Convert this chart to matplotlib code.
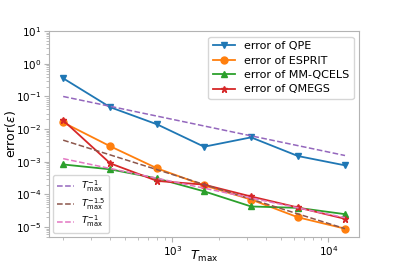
import matplotlib
matplotlib.use("Agg")
import matplotlib.pyplot as plt

# data
T = [200, 400, 800, 1600, 3200, 6400, 12800]
err_qpe = [0.36, 0.047, 0.014, 0.0029, 0.0056, 0.0015, 0.00078]
err_esprit = [0.016, 0.0030, 0.00063, 0.00019, 7.0e-5, 2.0e-5, 9.0e-6]
err_qcels = [0.00083, 0.00059, 0.00031, 0.000125, 4.3e-5, 3.9e-5, 2.5e-5]
err_qmegs = [0.0186, 0.0009, 0.00026, 0.0002, 8.7e-5, 4.0e-5, 1.8e-5]

# reference slopes
ref_a = [0.1, 0.05, 0.025, 0.0125, 0.00625, 0.003125, 0.00156]
ref_b = [0.0046, 0.00163, 0.000575, 0.000203, 7.2e-5, 2.54e-5, 9.0e-6]
ref_c = [0.00125, 0.000625, 0.000313, 0.000156, 7.8e-5, 3.9e-5, 1.95e-5]

fig = plt.figure(figsize=(3.99, 2.66), dpi=100)
ax = fig.add_axes([0.123, 0.109, 0.777, 0.774])

l1, = ax.plot(T, err_qpe, marker="v", color="tab:blue", lw=1.3, ms=5, label="error of QPE")
l2, = ax.plot(T, err_esprit, marker="o", color="tab:orange", lw=1.3, ms=5, label="error of ESPRIT")
l3, = ax.plot(T, err_qcels, marker="^", color="tab:green", lw=1.3, ms=5, label="error of MM-QCELS")
l4, = ax.plot(T, err_qmegs, marker="*", color="tab:red", lw=1.3, ms=5, label="error of QMEGS")

r1, = ax.plot(T, ref_a, "--", color="tab:purple", lw=1.1, label=r"$T_{\max}^{-1}$")
r2, = ax.plot(T, ref_b, "--", color="tab:brown", lw=1.1, label=r"$T_{\max}^{-1.5}$")
r3, = ax.plot(T, ref_c, "--", color="tab:pink", lw=1.1, label=r"$T_{\max}^{-1}$")

ax.set_xscale("log")
ax.set_yscale("log")
ax.set_ylim(5e-6, 10)
ax.set_yticks([1e-5, 1e-4, 1e-3, 1e-2, 1e-1, 1, 10])
ax.tick_params(labelsize=7.5, pad=2)
for s in ax.spines.values():
    s.set_color("0.7")
ax.tick_params(which="both", color="0.7")

ax.set_xlabel(r"$T_{\max}$", fontsize=9)
ax.set_ylabel(r"error$(\epsilon)$", fontsize=9)
ax.xaxis.set_label_coords(0.5, -0.06)
ax.yaxis.set_label_coords(-0.1, 0.5)

leg1 = ax.legend(handles=[l1, l2, l3, l4], loc="upper right", fontsize=8, labelspacing=0.4)
ax.add_artist(leg1)
ax.legend(handles=[r1, r2, r3], loc="lower left", fontsize=6.8, labelspacing=0.3,
          handlelength=1.8, borderaxespad=0.4)

plt.savefig("out.png", dpi=100)
